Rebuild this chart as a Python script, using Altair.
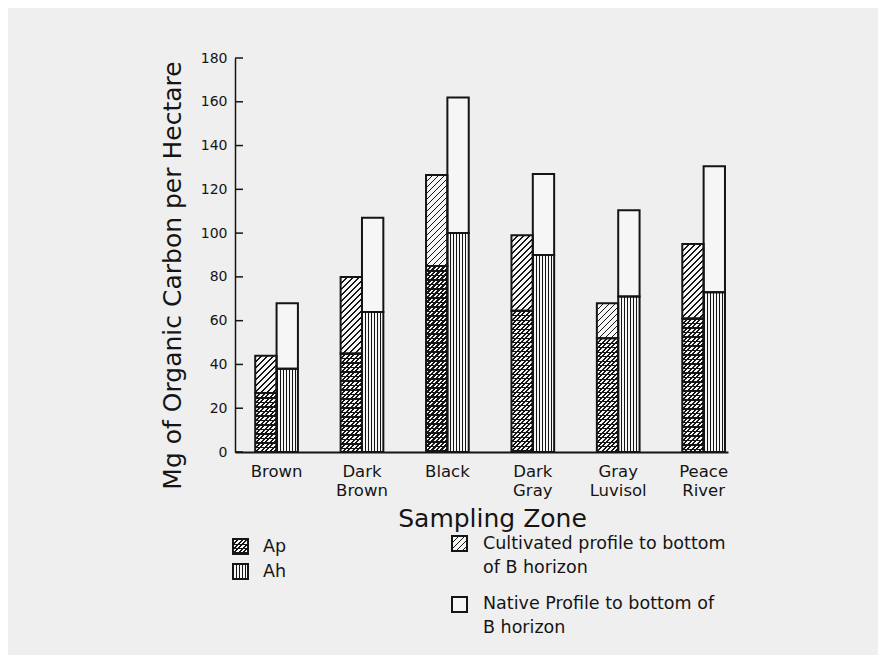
import math
import altair as alt
import pandas as pd

# ---------------- data ----------------
zones = ["Brown", "Dark Brown", "Black", "Dark Gray", "Gray Luvisol", "Peace River"]
ap_values = [27, 45, 85, 64.5, 52, 61]            # Ap horizon (cultivated)
cultivated_values = [44, 80, 126.5, 99, 68, 95]   # cultivated profile to bottom of B
ah_values = [38, 64, 100, 90, 71, 73]             # Ah horizon (native)
native_values = [68, 107, 162, 127, 110.5, 130.5] # native profile to bottom of B
y_ticks = [0, 20, 40, 60, 80, 100, 120, 140, 160, 180]
legend_keys = ["Ap", "Ah", "Cult", "Native"]
legend_texts = ["Ap", "Ah", "Cultivated profile to bottom\nof B horizon",
                "Native Profile to bottom of\nB horizon"]

# ---------------- layout / style ----------------
W, H = 493, 394
YMAX = 180
PX = H / YMAX
P_INNER, P_OUTER, ALIGN = 0.5, 0.136, 0.87
STEP = W / (len(zones) - P_INNER + 2 * P_OUTER)
BAR_W = STEP * (1 - P_INNER) / 2
INK = "#151515"
LIGHT = "#f6f6f6"
FONT = "DejaVu Sans"
CLEAR = "rgba(0,0,0,0)"


def stripe_stops(n, dark, c_dark=INK, c_light=LIGHT):
    stops = []
    k = 0
    while k < n:
        a = min(k / n, 1)
        b = min((k + dark) / n, 1)
        c = min((k + 1) / n, 1)
        stops += [{"offset": a, "color": c_dark}, {"offset": b, "color": c_dark},
                  {"offset": b, "color": c_light}, {"offset": c, "color": c_light}]
        k += 1
    return stops


def diag(w, h, period, dark, c_light=LIGHT):
    # "/" hatching at 45 degrees in pixel space
    n = (w * w + h * h) / (w * period)
    return {"gradient": "linear", "x1": 0, "y1": 0, "x2": 1, "y2": h / w,
            "stops": stripe_stops(n, dark, INK, c_light)}


def hstripes(h, period, dark, c_light=CLEAR):
    return {"gradient": "linear", "x1": 0, "y1": 0, "x2": 0, "y2": 1,
            "stops": stripe_stops(h / period, dark, INK, c_light)}


def vstripes(w, period, dark, c_light=LIGHT):
    return {"gradient": "linear", "x1": 0, "y1": 0, "x2": 1, "y2": 0,
            "stops": stripe_stops(w / period, dark, INK, c_light)}


rows = []
for z, a, c, h, n in zip(zones, ap_values, cultivated_values, ah_values, native_values):
    rows += [
        dict(zone=z, sub="A", seg="Ap", lo=0, hi=a),
        dict(zone=z, sub="A", seg="Cult", lo=a, hi=c),
        dict(zone=z, sub="B", seg="Ah", lo=0, hi=h),
        dict(zone=z, sub="B", seg="Native", lo=h, hi=n),
    ]
df = pd.DataFrame(rows)

x_axis = alt.Axis(
    title="Sampling Zone", labelExpr="split(datum.label, ' ')", labelAngle=0,
    ticks=False, domainWidth=2, domainColor=INK, grid=False,
    labelFont=FONT, labelFontSize=16.5, labelLineHeight=19, labelPadding=11,
    labelColor=INK, titleFont=FONT, titleFontSize=25, titleFontWeight="normal",
    titleColor=INK, titleX=257, titleY=66, titleAlign="center", titleBaseline="middle",
)
y_scale = alt.Scale(domain=[0, YMAX], nice=False)
y_axis = alt.Axis(
    title="Mg of Organic Carbon per Hectare", values=y_ticks, ticks=False,
    tickSize=0, labelPadding=8, domainWidth=1.5, domainColor=INK, grid=False,
    labelFont=FONT, labelFontSize=14, labelColor=INK,
    titleFont=FONT, titleFontSize=25, titleFontWeight="normal", titleColor=INK,
    titleAngle=270, titleX=-63, titleY=217, titleAlign="center", titleBaseline="middle",
)
x_enc = alt.X("zone:N", sort=zones, axis=x_axis,
              scale=alt.Scale(paddingInner=P_INNER, paddingOuter=P_OUTER, align=ALIGN))
xo_enc = alt.XOffset("sub:N", scale=alt.Scale(paddingInner=0, paddingOuter=0))

base = alt.Chart(df).encode(x=x_enc, xOffset=xo_enc,
                            y=alt.Y("lo:Q", scale=y_scale, axis=y_axis), y2="hi:Q")

layers = []
for z, a, c in zip(zones, ap_values, cultivated_values):
    h_cult = (c - a) * PX
    h_ap = a * PX
    layers.append(base.transform_filter(f"datum.zone == '{z}' && datum.seg == 'Cult'")
                  .mark_bar(fill=diag(BAR_W, h_cult, 6.0, 0.3)))
    layers.append(base.transform_filter(f"datum.zone == '{z}' && datum.seg == 'Ap'")
                  .mark_bar(fill=diag(BAR_W, h_ap, 4.5, 0.45)))
    layers.append(base.transform_filter(f"datum.zone == '{z}' && datum.seg == 'Ap'")
                  .mark_bar(fill=hstripes(h_ap, 4.5, 0.25)))

layers.append(base.transform_filter("datum.seg == 'Ah'")
              .mark_bar(fill=vstripes(BAR_W, 3.0, 0.35)))
layers.append(base.transform_filter("datum.seg == 'Native'").mark_bar(fill=LIGHT))
layers.append(base.mark_bar(fill="transparent", stroke=INK, strokeWidth=2))

# inward y ticks
tick_df = pd.DataFrame({"v": y_ticks})
layers.append(alt.Chart(tick_df).mark_rule(color=INK, strokeWidth=1.5).encode(
    y=alt.Y("v:Q", scale=y_scale, axis=y_axis), x=alt.value(0), x2=alt.value(8)))

# custom legend
leg_df = pd.DataFrame({"key": legend_keys, "text": legend_texts})
S = 15
sq_pos = {"Ap": (-2, 481), "Ah": (-2, 506), "Cult": (217, 478), "Native": (217, 539)}
sq_fill = {
    "Ap": [diag(S, S, 4.5, 0.45), hstripes(S, 4.5, 0.25)],
    "Ah": [vstripes(S, 3.0, 0.35)],
    "Cult": [diag(S, S, 6.0, 0.3)],
    "Native": [LIGHT],
}
for k in legend_keys:
    x0, y0 = sq_pos[k]
    for f in sq_fill[k]:
        layers.append(alt.Chart(leg_df).transform_filter(f"datum.key == '{k}'")
                      .mark_rect(fill=f).encode(x=alt.value(x0), x2=alt.value(x0 + S),
                                                y=alt.value(y0), y2=alt.value(y0 + S)))
    layers.append(alt.Chart(leg_df).transform_filter(f"datum.key == '{k}'")
                  .mark_rect(fill="transparent", stroke=INK, strokeWidth=2)
                  .encode(x=alt.value(x0), x2=alt.value(x0 + S),
                          y=alt.value(y0), y2=alt.value(y0 + S)))

txt_pos = {"Ap": (28, 480), "Ah": (28, 505), "Cult": (248, 477), "Native": (248, 537)}
for k in legend_keys:
    tx, ty = txt_pos[k]
    layers.append(alt.Chart(leg_df).transform_filter(f"datum.key == '{k}'")
                  .mark_text(align="left", baseline="top", font=FONT, fontSize=17.5,
                             color=INK, lineBreak="\n", lineHeight=24)
                  .encode(text="text:N", x=alt.value(tx), y=alt.value(ty)))

chart = alt.layer(*layers).properties(
    width=W, height=H,
    autosize=alt.AutoSizeParams(type="none"),
    padding={"left": 227, "top": 50, "right": 150, "bottom": 203},
    background="#efefef",
).configure_view(stroke=None)

chart.save("out.html", embed_options={"renderer": "svg", "actions": False})
